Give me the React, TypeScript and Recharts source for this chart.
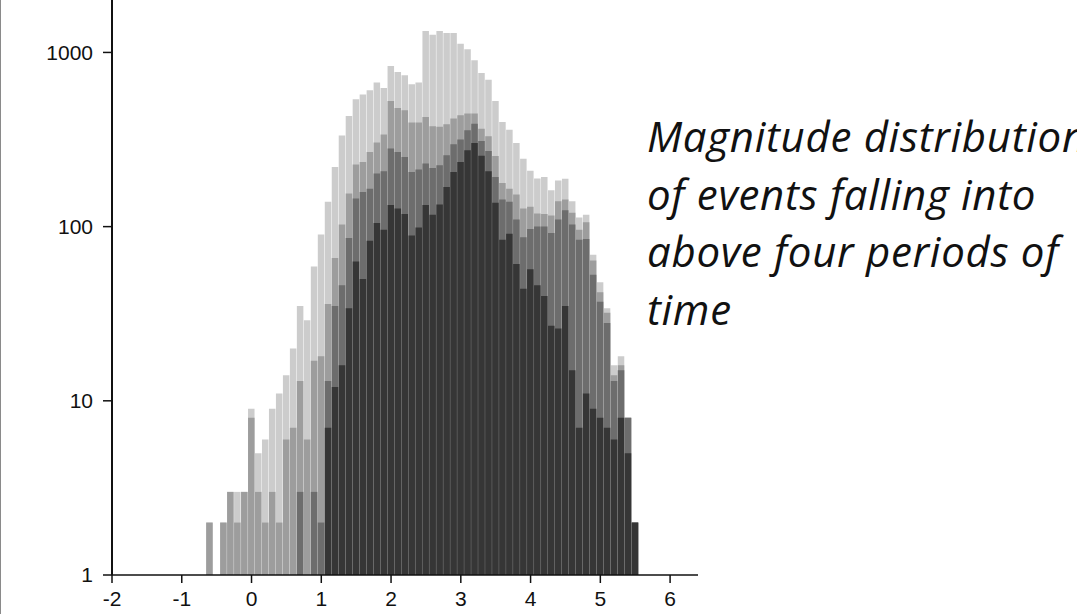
import React from 'react';
import { BarChart, Bar, XAxis, YAxis } from 'recharts';

// bin centres (magnitude, 0.1 wide bins)
const magnitudes = [
  -0.6, -0.5, -0.4, -0.3, -0.2, -0.1, 0.0, 0.1, 0.2, 0.3, 0.4, 0.5, 0.6, 0.7, 0.8, 0.9,
  1.0, 1.1, 1.2, 1.3, 1.4, 1.5, 1.6, 1.7, 1.8, 1.9, 2.0, 2.1, 2.2, 2.3, 2.4, 2.5,
  2.6, 2.7, 2.8, 2.9, 3.0, 3.1, 3.2, 3.3, 3.4, 3.5, 3.6, 3.7, 3.8, 3.9, 4.0, 4.1,
  4.2, 4.3, 4.4, 4.5, 4.6, 4.7, 4.8, 4.9, 5.0, 5.1, 5.2, 5.3, 5.4, 5.5,
];

// event counts per bin, one array per period (lightest first)
const period1 = [
  2, null, 2, 3, 3, 3, 9, 5, 6, 9, 11, 14, 20, 35, 29, 59,
  90, 139, 220, 334, 431, 538, 573, 606, 671, 625, 836, 772, 739, 656, 671, 1327,
  1265, 1327, 1292, 1292, 1123, 1042, 901, 762, 698, 526, 399, 360, 302, 245, 209, 189,
  193, 162, 184, 188, 140, 113, 117, 69, 48, 34, 16, 18, 8, 2,
];
const period2 = [
  2, null, 2, 3, 2, 3, 8, 3, 2, 3, 2, 6, 7, 13, 6, 17,
  18, 36, 66, 103, 155, 227, 235, 268, 304, 338, 526, 480, 465, 396, 396, 426,
  377, 374, 387, 417, 436, 446, 446, 365, 330, 254, 178, 165, 153, 127, 130, 119,
  118, 116, 140, 143, 120, 96, 106, 64, 42, 32, 14, 16, 8, 2,
];
const period3 = [
  null, null, null, null, null, null, null, null, null, null, null, null, null, 3, null, 3,
  2, 13, 35, 46, 86, 145, 158, 165, 202, 208, 281, 268, 251, 206, 213, 230,
  217, 225, 257, 297, 316, 357, 390, 310, 272, 193, 143, 139, 110, 87, 97, 100,
  100, 92, 110, 124, 103, 84, 85, 53, 37, 28, 13, 15, 8, 2,
];
const period4 = [
  null, null, null, null, null, null, null, null, null, null, null, null, null, null, null, null,
  null, 7, 12, 16, 34, 63, 50, 83, 105, 96, 133, 127, 118, 89, 99, 133,
  117, 134, 169, 206, 235, 274, 302, 255, 208, 137, 84, 91, 61, 44, 57, 46,
  40, 27, 26, 35, 15, 7, 11, 9, 8, 7, 6, 8, 5, 2,
];

const xTicks = [-2, -1, 0, 1, 2, 3, 4, 5, 6];
const yTicks = [1, 10, 100, 1000];

const captionLines = [
  'Magnitude distribution',
  'of events falling into',
  'above four periods of',
  'time',
];

const rows = magnitudes.map((m, i) => ({
  m,
  p1: period1[i],
  p2: period2[i],
  p3: period3[i],
  p4: period4[i],
}));

const tickFont = {
  fill: '#111',
  fontSize: 21,
  fontFamily: '"Liberation Sans", Arial, sans-serif',
};

// all four series share one slot per bin, drawn back to front
const BAR_W = 6.5;

export default function App() {
  return (
    <div
      style={{
        position: 'absolute',
        left: 0,
        top: 0,
        width: 1077,
        height: 614,
        overflow: 'hidden',
        background: '#fff',
      }}
    >
      <div
        style={{
          position: 'absolute',
          left: 0,
          top: 0,
          width: 1,
          height: 614,
          background: '#8a8a8a',
        }}
      />
      <BarChart
        width={1077}
        height={614}
        data={rows}
        margin={{ top: 0, right: 379, bottom: 0, left: 0 }}
        barGap={-BAR_W}
        barCategoryGap={0}
      >
        <XAxis
          type="number"
          dataKey="m"
          domain={[-2, 6.4]}
          ticks={xTicks}
          allowDataOverflow
          interval={0}
          height={39}
          tickSize={8}
          tickMargin={8}
          tick={tickFont}
          axisLine={{ stroke: '#111', strokeWidth: 1.5 }}
          tickLine={{ stroke: '#111', strokeWidth: 1.5 }}
        />
        <YAxis
          type="number"
          scale="log"
          domain={[1, 2000]}
          ticks={yTicks}
          allowDataOverflow
          interval={0}
          width={112}
          tickSize={9}
          tickMargin={10}
          tick={tickFont}
          axisLine={{ stroke: '#111', strokeWidth: 2 }}
          tickLine={{ stroke: '#111', strokeWidth: 1.5 }}
        />
        <Bar dataKey="p1" fill="#cccccc" barSize={BAR_W} isAnimationActive={false} />
        <Bar dataKey="p2" fill="#9d9d9d" barSize={BAR_W} isAnimationActive={false} />
        <Bar dataKey="p3" fill="#6d6d6d" barSize={BAR_W} isAnimationActive={false} />
        <Bar dataKey="p4" fill="#363636" barSize={BAR_W} isAnimationActive={false} />
      </BarChart>
      <div
        style={{
          position: 'absolute',
          left: 647,
          top: 107,
          fontFamily: '"Open Sans", sans-serif',
          fontStyle: 'italic',
          fontSize: 42,
          letterSpacing: 0.7,
          lineHeight: '57.7px',
          color: '#111',
          whiteSpace: 'pre',
        }}
      >
        {captionLines.map((line) => (
          <div key={line}>{line}</div>
        ))}
      </div>
    </div>
  );
}
